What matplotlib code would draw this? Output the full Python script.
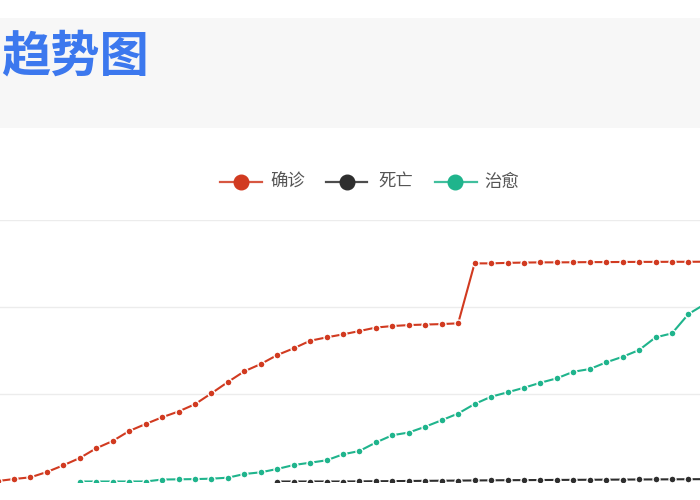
import numpy as np
import matplotlib
matplotlib.use("Agg")
import matplotlib.pyplot as plt
from matplotlib.patches import Rectangle
from matplotlib.lines import Line2D

plt.rcParams['font.family'] = ['Noto Sans CJK SC', 'DejaVu Sans']

# ---- data (day index positions; chart is cropped on both sides) ----
confirmed_start = -1
confirmed = [100, 570, 960, 2180, 3720, 5390, 7620, 9290, 11580, 13190, 14730,
             16060, 17730, 20230, 22820, 25280, 26950, 29010, 30550, 32290, 33070,
             33760, 34520, 35320, 35670, 35890, 36010, 36120, 36290, 50050, 50050,
             50160, 50230, 50280, 50280, 50300, 50340, 50340, 50370, 50390, 50390,
             50410, 50410, 50430]
deaths_start = 16
deaths = [0, 0, 0, 0, 0, 30, 60, 90, 120, 150, 180, 210, 240, 270, 300, 320,
          340, 360, 380, 400, 420, 440, 460, 480, 500, 520, 540]
cured_start = 4
cured = [0, 0, 0, 0, 0, 450, 500, 550, 650, 870, 1720, 2110, 2870, 3780, 4310,
         4860, 6240, 7000, 8950, 10620, 11240, 12570, 14060, 15600, 17780, 19450,
         20460, 21510, 22660, 23670, 25180, 25800, 27340, 28620, 30160, 33070,
         33990, 38420, 40700]
series_names = ['确诊', '死亡', '治愈']
series_colors = ['#d13a20', '#2e2e2e', '#1fb48c']
y_ticks = [20000, 40000, 60000]
title_text = '趋势图'

W, H = 700, 500
fig = plt.figure(figsize=(W / 100, H / 100), dpi=100)
fig.patch.set_facecolor('white')

# header band
fig.patches.append(Rectangle((0, 1 - 128 / H), 1, (128 - 18) / H,
                             transform=fig.transFigure, facecolor='#f7f7f7',
                             edgecolor='none', zorder=0))
fig.text(1 / W, 1 - 57 / H, title_text, ha='left', va='center',
         fontsize=35.5, fontweight='bold', color='#3c78ee')

# plot area
y_top, y_zero = 220, 481.5
ax = fig.add_axes([0, 1 - y_zero / H, 1, (y_zero - y_top) / H])
x0_px, dx_px = 14, 16.45
ax.set_xlim((0 - x0_px) / dx_px, (W - x0_px) / dx_px)
ax.set_ylim(0, 60000)
for t in y_ticks:
    ax.axhline(t, color='#ececec', lw=1, zorder=0)
for s in ax.spines.values():
    s.set_visible(False)
ax.set_xticks([])
ax.set_yticks([])
ax.patch.set_alpha(0)

data = [(confirmed_start, confirmed), (deaths_start, deaths), (cured_start, cured)]
for z, ((start, vals), c) in enumerate(zip(data, series_colors)):
    xs = np.arange(start, start + len(vals))
    ax.plot(xs, vals, color=c, lw=1.5, marker='o', markersize=5.0,
            markerfacecolor=c, markeredgecolor='white', markeredgewidth=1.0,
            zorder=3 + z)

# legend (manual, centered)
leg_y = 1 - 181.7 / H
items = [(220, 262, 241, 270), (326, 367, 347, 378), (435, 477, 455, 484)]
for (l0, l1, m, tx), name, c in zip(items, series_names, series_colors):
    fig.add_artist(Line2D([l0 / W, l1 / W], [leg_y, leg_y], transform=fig.transFigure,
                          color=c, lw=1.6, alpha=0.85))
    fig.add_artist(Line2D([m / W], [leg_y], transform=fig.transFigure, marker='o',
                          markersize=10.5, color=c, markeredgecolor=c))
    fig.text(tx / W, leg_y, name, ha='left', va='center', fontsize=12.5, color='#555555')

fig.savefig('out.png', dpi=100)
